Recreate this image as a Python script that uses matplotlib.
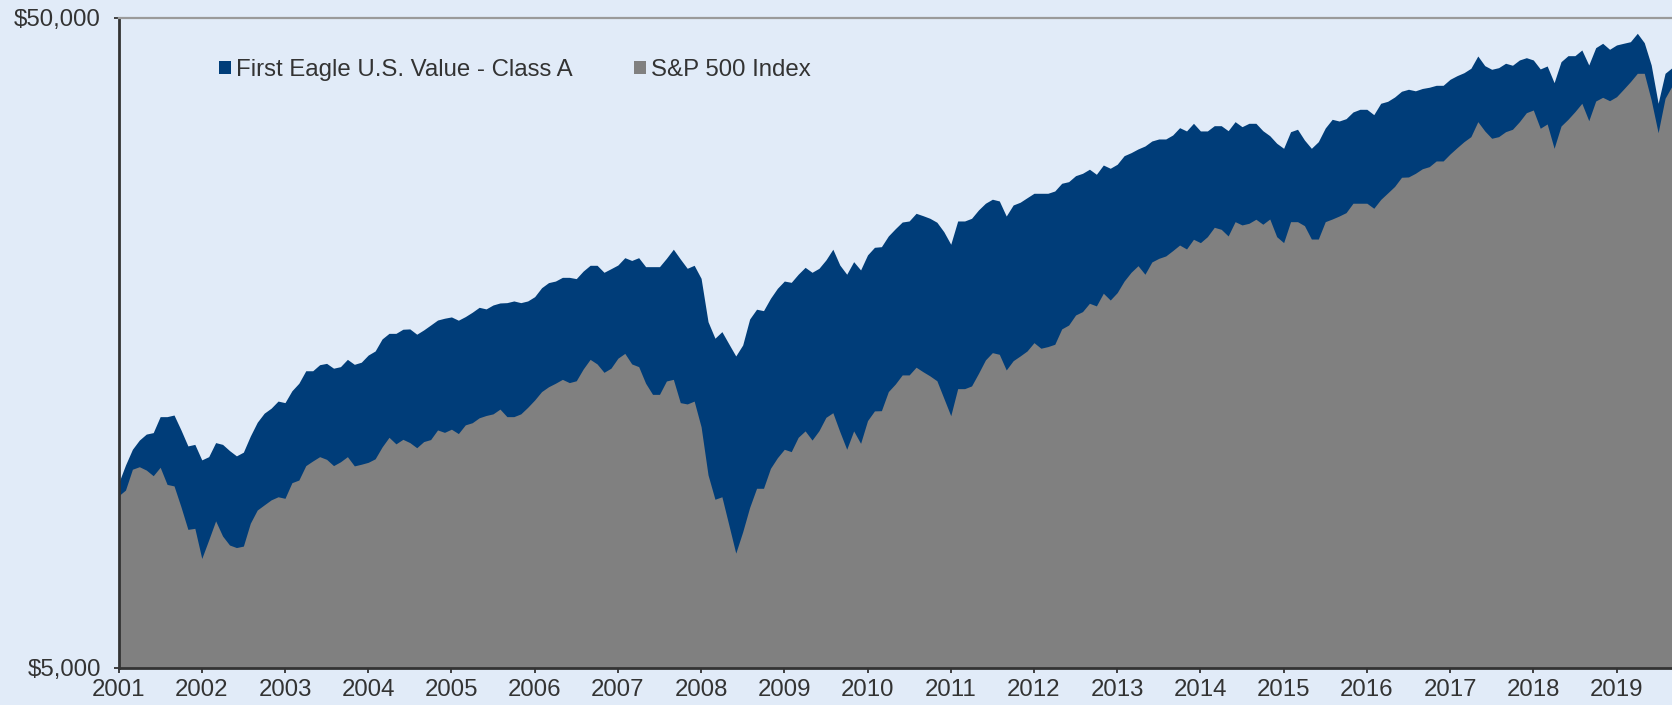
import numpy as np
import matplotlib
matplotlib.use("Agg")
import matplotlib.pyplot as plt
from matplotlib.patches import Patch
from matplotlib.ticker import FixedLocator, NullLocator

plt.rcParams['font.family'] = ['Liberation Sans', 'DejaVu Sans']

# growth of an investment, monthly values
fund = [
    9620, 10260, 10850, 11210, 11450, 11510, 12180, 12180, 12250, 11620, 10980, 11040,
    10450, 10570, 11110, 11040, 10800, 10600, 10740, 11370, 11940, 12330, 12550, 12870,
    12800, 13350, 13710, 14330, 14330, 14640, 14710, 14460, 14540, 14920, 14660, 14770,
    15150, 15370, 16040, 16360, 16360, 16600, 16620, 16310, 16560, 16850, 17150, 17260,
    17340, 17140, 17360, 17630, 17940, 17840, 18090, 18220, 18240, 18350, 18240, 18350,
    18630, 19230, 19580, 19690, 19950, 19950, 19860, 20400, 20820, 20820, 20310, 20570,
    20840, 21390, 21180, 21390, 20720, 20720, 20720, 21340, 22040, 21290, 20600, 20820,
    19880, 17050, 16080, 16460, 15760, 15100, 15700, 17210, 17820, 17730, 18520, 19190,
    19690, 19600, 20170, 20670, 20310, 20600, 21220, 22040, 20840, 20170, 21090, 20480,
    21600, 22190, 22240, 23100, 23700, 24270, 24360, 25030, 24820, 24590, 24250, 23450,
    22430, 24360, 24360, 24590, 25330, 25940, 26310, 26150, 24790, 25780, 26030, 26450,
    26870, 26870, 26870, 27090, 27840, 28000, 28600, 28840, 29260, 28740, 29700, 29360,
    29780, 30700, 31030, 31440, 31770, 32340, 32570, 32570, 33030, 33900, 33510, 34430,
    33510, 33510, 34140, 34140, 33540, 34630, 34020, 34430, 34430, 33540, 32950, 32080,
    31510, 33420, 33710, 32450, 31510, 32260, 33860, 34920, 34710, 35000, 35840, 36180,
    36180, 35500, 36960, 37220, 37790, 38570, 38840, 38630, 38950, 39120, 39390, 39390,
    40240, 40760, 41190, 41840, 43700, 42230, 41690, 41930, 42590, 42290, 43090, 43440,
    43090, 41740, 42180, 39760, 42830, 43750, 43750, 44640, 42330, 45010, 45710, 44750,
    45440, 45710, 45970, 47360, 45810, 42330, 36960, 41100, 41930,
]

sp500 = [
    9200, 9390, 10110, 10200, 10080, 9880, 10180, 9580, 9530, 8850, 8170, 8200,
    7370, 7870, 8420, 7980, 7730, 7660, 7700, 8350, 8750, 8910, 9070, 9170,
    9120, 9640, 9730, 10240, 10410, 10570, 10470, 10240, 10380, 10570, 10230, 10290,
    10360, 10490, 10940, 11320, 11060, 11240, 11110, 10910, 11150, 11230, 11620, 11520,
    11650, 11470, 11830, 11920, 12130, 12230, 12300, 12510, 12180, 12180, 12300, 12590,
    12920, 13310, 13540, 13710, 13900, 13740, 13830, 14420, 14920, 14680, 14250, 14460,
    14980, 15240, 14680, 14540, 13710, 13180, 13180, 13820, 13900, 12800, 12740, 12870,
    11750, 9910, 9090, 9170, 8300, 7510, 8100, 8830, 9450, 9450, 10140, 10530,
    10850, 10760, 11320, 11580, 11210, 11590, 12150, 12350, 11550, 10850, 11580, 11080,
    12010, 12430, 12440, 13310, 13670, 14120, 14120, 14510, 14280, 14070, 13830, 13000,
    12220, 13450, 13450, 13580, 14200, 14890, 15280, 15190, 14370, 14850, 15100, 15370,
    15830, 15520, 15610, 15740, 16620, 16850, 17460, 17670, 18200, 18030, 18860, 18410,
    18900, 19690, 20310, 20790, 20170, 21070, 21340, 21520, 21930, 22370, 22060, 22830,
    22560, 23040, 23820, 23650, 23100, 24300, 24020, 24160, 24510, 24080, 24530, 23040,
    22560, 24300, 24300, 23960, 22850, 22850, 24300, 24530, 24790, 25090, 25940, 25940,
    25940, 25480, 26290, 26900, 27530, 28440, 28470, 28840, 29310, 29530, 30130, 30130,
    30890, 31580, 32260, 32840, 34630, 33510, 32650, 32840, 33420, 33710, 34630, 35750,
    36090, 33830, 34350, 31510, 34100, 34920, 35880, 36960, 34750, 37260, 37750, 37300,
    37830, 38840, 39900, 41100, 41100, 37390, 33300, 37620, 39300,
]

years = [str(y) for y in range(2001, 2020)]
y_ticks = [5000, 50000]
y_labels = ["$5,000", "$50,000"]
series_names = ["First Eagle U.S. Value - Class A", "S&P 500 Index"]

blue = "#003D79"
grey = "#808080"
bg = "#E1EBF8"
txt = "#333333"
fs = 17.3

months = np.arange(len(fund))

fig = plt.figure(figsize=(16.72, 7.05), dpi=100, facecolor=bg)
ax = fig.add_axes([0.0709, 0.0525, 0.9291, 0.922])
ax.set_facecolor(bg)

ax.fill_between(months, fund, 5000, color=blue, lw=0)
ax.fill_between(months, sp500, 5000, color=grey, lw=0)

ax.set_yscale("log")
ax.set_ylim(5000, 50000)
ax.set_xlim(0, len(fund) - 1)

ax.yaxis.set_major_locator(FixedLocator(y_ticks))
ax.yaxis.set_minor_locator(NullLocator())
ax.set_yticklabels(y_labels)
ax.set_xticks(np.arange(len(years)) * 12)
ax.set_xticklabels(years)

ax.tick_params(axis="both", direction="out", length=3.6, width=1.3, color=txt,
               labelsize=fs, labelcolor=txt)
ax.tick_params(axis="y", pad=9)
ax.tick_params(axis="x", pad=4)

for s in ["left", "bottom"]:
    ax.spines[s].set_color(txt)
    ax.spines[s].set_linewidth(2)
ax.spines["top"].set_color("#9A9A9A")
ax.spines["top"].set_linewidth(1.6)
ax.spines["right"].set_visible(False)

handles = [Patch(facecolor=blue, edgecolor="none"), Patch(facecolor=grey, edgecolor="none")]
ax.legend(handles, series_names, loc="center left", bbox_to_anchor=(219 / 1672, 1 - 70 / 705),
          bbox_transform=fig.transFigure, ncol=2, frameon=False, fontsize=fs,
          handlelength=0.5, handleheight=0.5, handletextpad=0.21, columnspacing=2.55,
          borderpad=0, borderaxespad=0, labelcolor=txt)

fig.savefig("out.png", dpi=100, facecolor=bg)
